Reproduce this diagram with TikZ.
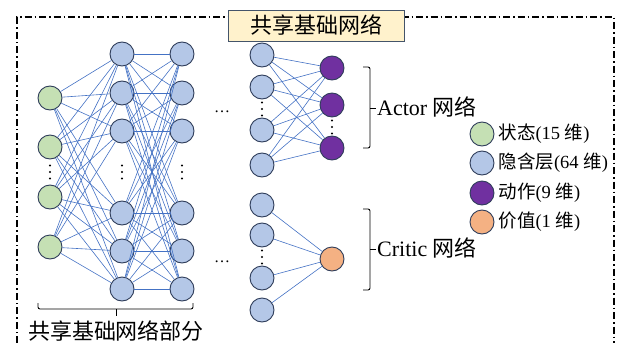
\documentclass[tikz,border=0pt]{standalone}
\usepackage{fontspec}
\setmainfont{Liberation Serif}
\newfontfamily\cjk{Noto Sans CJK SC}
\definecolor{edgeblue}{HTML}{4472C4}
\definecolor{ingreen}{HTML}{C5E0B4}
\definecolor{hidblue}{HTML}{B4C7E7}
\definecolor{actpurple}{HTML}{7030A0}
\definecolor{valorange}{HTML}{F4B183}
\definecolor{nodeborder}{HTML}{2F3D5A}
\definecolor{titlefill}{HTML}{FFF2CC}
\definecolor{titleborder}{HTML}{44546A}
\begin{document}
\begin{tikzpicture}[x=1pt,y=-1pt,
  neuron/.style={circle, draw=nodeborder, line width=0.9pt, minimum size=24pt, inner sep=0pt},
  innode/.style={neuron, fill=ingreen},
  hidnode/.style={neuron, fill=hidblue},
  actnode/.style={neuron, fill=actpurple},
  valnode/.style={neuron, fill=valorange},
  conn/.style={draw=edgeblue, line width=0.6pt},
  vdot/.style={fill=black},
  bracket/.style={draw=black, line width=0.9pt, rounded corners=2pt},
  frame/.style={draw=black, line width=1.1pt, dash pattern=on 7pt off 3pt on 1.5pt off 3pt},
  bigtext/.style={font=\fontsize{22}{24}\selectfont},
  legtext/.style={font=\fontsize{18.5}{20}\selectfont, anchor=west},
  hdots/.style={font=\fontsize{16}{18}\selectfont, anchor=base}]
\useasboundingbox (0,0) rectangle (622,343);

% frame
\draw[frame] (17,343) -- (17,17) -- (614,17) -- (614,343);

% input layer
\node[innode] (in1) at (50,98) {};
\node[innode] (in2) at (50,147) {};
\node[innode] (in3) at (50,197) {};
\node[innode] (in4) at (50,247) {};
% hidden layer 1
\node[hidnode] (ha1) at (122,54) {};
\node[hidnode] (ha2) at (122,93) {};
\node[hidnode] (ha3) at (122,131) {};
\node[hidnode] (ha4) at (122,213) {};
\node[hidnode] (ha5) at (122,251) {};
\node[hidnode] (ha6) at (122,289) {};
% hidden layer 2
\node[hidnode] (hb1) at (182,54) {};
\node[hidnode] (hb2) at (182,93) {};
\node[hidnode] (hb3) at (182,131) {};
\node[hidnode] (hb4) at (182,213) {};
\node[hidnode] (hb5) at (182,251) {};
\node[hidnode] (hb6) at (182,289) {};
% actor hidden
\node[hidnode] (ah1) at (262,55) {};
\node[hidnode] (ah2) at (262,87) {};
\node[hidnode] (ah3) at (262,130) {};
\node[hidnode] (ah4) at (262,165) {};
% actor outputs
\node[actnode] (ao1) at (332,68) {};
\node[actnode] (ao2) at (332,105) {};
\node[actnode] (ao3) at (332,148) {};
% critic hidden
\node[hidnode] (ch1) at (262,205) {};
\node[hidnode] (ch2) at (262,235) {};
\node[hidnode] (ch3) at (262,278) {};
\node[hidnode] (ch4) at (262,310) {};
% critic output
\node[valnode] (co) at (332,259) {};

% connections
\foreach \a in {in1,in2,in3,in4}
  \foreach \b in {ha1,ha2,ha3,ha4,ha5,ha6}
    \draw[conn] (\a) -- (\b);
\foreach \a in {ha1,ha2,ha3,ha4,ha5,ha6}
  \foreach \b in {hb1,hb2,hb3,hb4,hb5,hb6}
    \draw[conn] (\a) -- (\b);
\foreach \a in {ah1,ah2,ah3,ah4}
  \foreach \b in {ao1,ao2,ao3}
    \draw[conn] (\a) -- (\b);
\foreach \a in {ch1,ch2,ch3,ch4}
  \draw[conn] (\a) -- (co);

% vertical dots
\foreach \x/\y in {50/172, 122/172, 182/172, 262/109, 332/127, 262/257}{
  \fill[vdot] (\x,\y-6.5) circle (1.2pt);
  \fill[vdot] (\x,\y) circle (1.2pt);
  \fill[vdot] (\x,\y+6.5) circle (1.2pt);
}
% horizontal dots
\node[hdots] (hd1) at (222,112) {…};
\node[hdots] (hd2) at (222,262) {…};

% brackets
\draw[bracket] (363,67) -- (370,67) -- (370,148) -- (363,148);
\draw[bracket] (370,108) -- (376,108);
\draw[bracket] (363,209) -- (370,209) -- (370,290) -- (363,290);
\draw[bracket] (370,249) -- (376,249);
\draw[bracket] (38,303) -- (38,309) -- (193,309) -- (193,303);
\draw[bracket] (116,309) -- (116,316);

\node[bigtext, anchor=west, inner sep=0pt] (actl) at (377,107) {Actor {\cjk 网络}};
\node[bigtext, anchor=west, inner sep=0pt] (critl) at (377,248) {Critic {\cjk 网络}};

% title
\node[draw=titleborder, fill=titlefill, line width=0.9pt, minimum width=176pt, minimum height=31pt, inner sep=0pt, bigtext] (title) at (316,25.5) {\cjk 共享基础网络};
% bottom label
\node[bigtext, inner sep=0pt] (botl) at (116,331) {\cjk 共享基础网络部分};

% legend
\node[innode] (lg1) at (482,134) {};
\node[hidnode] (lg2) at (482,163) {};
\node[actnode] (lg3) at (482,193) {};
\node[valnode] (lg4) at (482,222) {};
\node[legtext] (lt1) at (495,134) {{\cjk 状态}(15 {\cjk 维})};
\node[legtext] (lt2) at (495,163) {{\cjk 隐含层}(64 {\cjk 维})};
\node[legtext] (lt3) at (495,193) {{\cjk 动作}(9 {\cjk 维})};
\node[legtext] (lt4) at (495,222) {{\cjk 价值}(1 {\cjk 维})};
\end{tikzpicture}
\end{document}
